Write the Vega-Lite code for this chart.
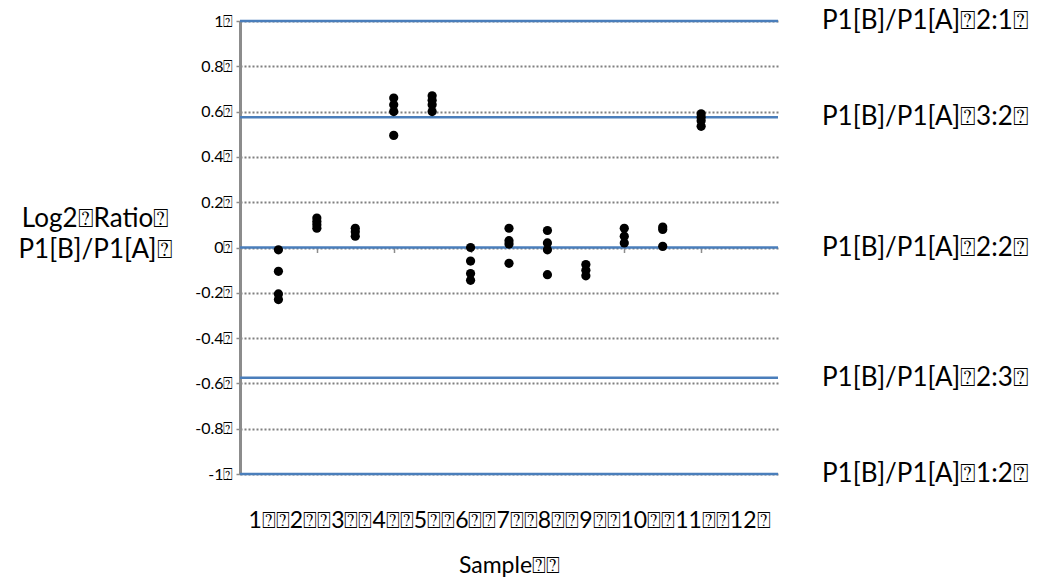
{
  "$schema": "https://vega.github.io/schema/vega-lite/v6.json",
  "width": 538,
  "height": 453,
  "autosize": {"type": "none"},
  "padding": {"left": 240, "top": 21, "right": 272, "bottom": 111},
  "background": "white",
  "config": {"view": {"stroke": null}, "font": "Lato"},
  "datasets": {
    "points": [
      {"sample": 1, "ratio": -0.01}, {"sample": 1, "ratio": -0.105}, {"sample": 1, "ratio": -0.205}, {"sample": 1, "ratio": -0.23},
      {"sample": 2, "ratio": 0.13}, {"sample": 2, "ratio": 0.115}, {"sample": 2, "ratio": 0.1}, {"sample": 2, "ratio": 0.085},
      {"sample": 3, "ratio": 0.085}, {"sample": 3, "ratio": 0.07}, {"sample": 3, "ratio": 0.05},
      {"sample": 4, "ratio": 0.66}, {"sample": 4, "ratio": 0.63}, {"sample": 4, "ratio": 0.6}, {"sample": 4, "ratio": 0.495},
      {"sample": 5, "ratio": 0.67}, {"sample": 5, "ratio": 0.65}, {"sample": 5, "ratio": 0.63}, {"sample": 5, "ratio": 0.6},
      {"sample": 6, "ratio": 0.0}, {"sample": 6, "ratio": -0.06}, {"sample": 6, "ratio": -0.115}, {"sample": 6, "ratio": -0.145},
      {"sample": 7, "ratio": 0.085}, {"sample": 7, "ratio": 0.03}, {"sample": 7, "ratio": 0.015}, {"sample": 7, "ratio": -0.07},
      {"sample": 8, "ratio": 0.075}, {"sample": 8, "ratio": 0.02}, {"sample": 8, "ratio": -0.01}, {"sample": 8, "ratio": -0.12},
      {"sample": 9, "ratio": -0.075}, {"sample": 9, "ratio": -0.1}, {"sample": 9, "ratio": -0.125},
      {"sample": 10, "ratio": 0.085}, {"sample": 10, "ratio": 0.05}, {"sample": 10, "ratio": 0.02},
      {"sample": 11, "ratio": 0.09}, {"sample": 11, "ratio": 0.08}, {"sample": 11, "ratio": 0.005},
      {"sample": 12, "ratio": 0.59}, {"sample": 12, "ratio": 0.575}, {"sample": 12, "ratio": 0.56}, {"sample": 12, "ratio": 0.535}
    ],
    "refs": [
      {"ratio": 1, "label": "P1[B]/P1[A]⍰2:1⍰"},
      {"ratio": 0.575, "label": "P1[B]/P1[A]⍰3:2⍰"},
      {"ratio": 0, "label": "P1[B]/P1[A]⍰2:2⍰"},
      {"ratio": -0.575, "label": "P1[B]/P1[A]⍰2:3⍰"},
      {"ratio": -1, "label": "P1[B]/P1[A]⍰1:2⍰"}
    ]
  },
  "layer": [
    {
      "data": {"name": "refs"},
      "mark": {"type": "rule", "color": "#4a7ebb", "strokeWidth": 2.5},
      "encoding": {
        "y": {
          "field": "ratio",
          "type": "quantitative",
          "scale": {"domain": [-1, 1], "nice": false, "zero": false},
          "axis": {
            "values": [-1, -0.8, -0.6, -0.4, -0.2, 0, 0.2, 0.4, 0.6, 0.8, 1],
            "grid": true,
            "gridColor": "#808080",
            "gridDash": [2, 2],
            "gridWidth": 2,
            "domainColor": "#8c8c8c",
            "domainWidth": 3,
            "tickColor": "#8c8c8c",
            "tickSize": 4,
            "tickWidth": 1.5,
            "labelFontSize": 16,
            "labelColor": "black",
            "labelPadding": 3,
            "labelExpr": "datum.value + '⍰'",
            "title": ["Log2⍰Ratio⍰", "P1[B]/P1[A]⍰"],
            "titleAngle": 0,
            "titleX": -145,
            "titleY": 184,
            "titleAlign": "center",
            "titleBaseline": "top",
            "titleFontSize": 26,
            "titleFontWeight": "normal",
            "titleLineHeight": 31,
            "titleColor": "black"
          }
        }
      }
    },
    {
      "data": {"name": "points"},
      "mark": {"type": "point", "filled": true, "color": "black", "size": 85, "opacity": 1},
      "encoding": {
        "x": {
          "field": "sample",
          "type": "quantitative",
          "scale": {"domain": [0, 14], "nice": false},
          "axis": {
            "values": [2, 4, 6, 8, 10, 12],
            "offset": -226.5,
            "domain": false,
            "labels": false,
            "ticks": true,
            "tickColor": "#8c8c8c",
            "tickSize": 5,
            "tickWidth": 1.5,
            "grid": false,
            "title": ["1⍰⍰2⍰⍰3⍰⍰4⍰⍰5⍰⍰6⍰⍰7⍰⍰8⍰⍰9⍰⍰10⍰⍰11⍰⍰12⍰", "Sample⍰⍰"],
            "titleFontSize": 23,
            "titleFontWeight": "normal",
            "titleLineHeight": 45,
            "titleBaseline": "top",
            "titleY": 262,
            "titleColor": "black"
          }
        },
        "y": {"field": "ratio", "type": "quantitative"}
      }
    },
    {
      "data": {"name": "refs"},
      "mark": {"type": "text", "align": "left", "baseline": "middle", "dx": 44, "fontSize": 26, "font": "Lato", "color": "black", "clip": false},
      "encoding": {
        "x": {"datum": 14},
        "y": {"field": "ratio", "type": "quantitative"},
        "text": {"field": "label"}
      }
    }
  ]
}
